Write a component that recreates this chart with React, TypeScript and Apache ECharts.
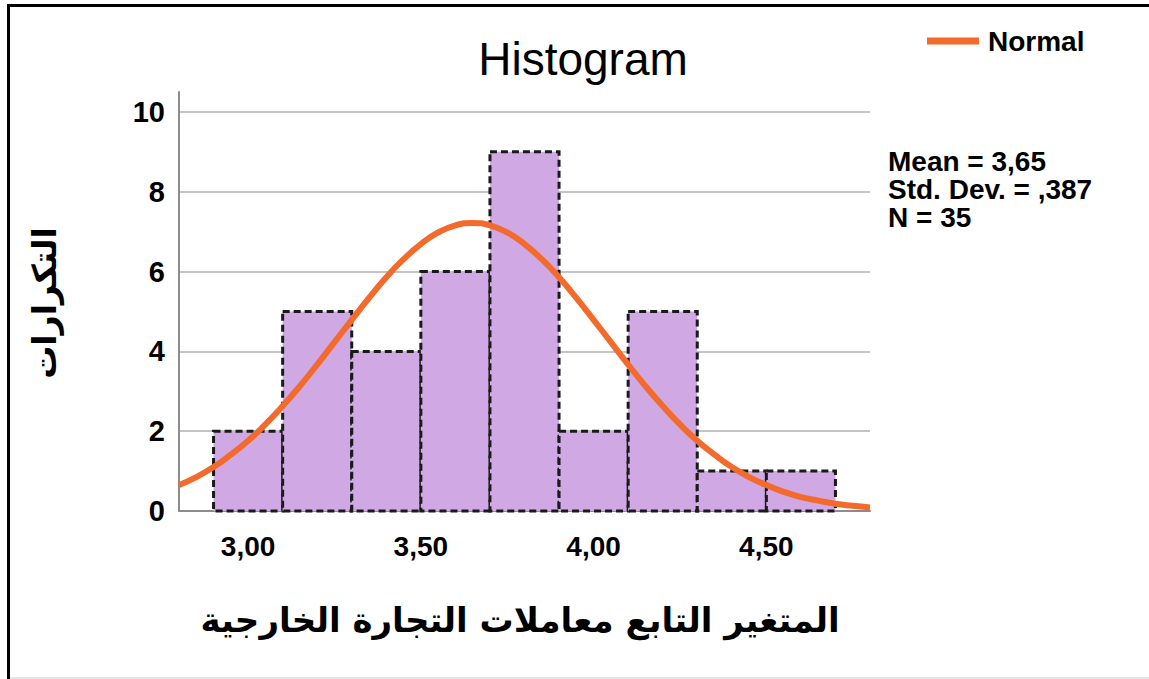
import React, { useEffect, useRef } from "react";
import * as echarts from "echarts";

// Histogram bins: [lower edge, upper edge, count]
const binLower = [2.9, 3.1, 3.3, 3.5, 3.7, 3.9, 4.1, 4.3, 4.5];
const binUpper = [3.1, 3.3, 3.5, 3.7, 3.9, 4.1, 4.3, 4.5, 4.7];
const binCounts = [2, 5, 4, 6, 9, 2, 5, 1, 1];

// Normal curve
const curveX = [2.8, 2.85, 2.9, 2.95, 3.0, 3.05, 3.1, 3.15, 3.2, 3.25, 3.3, 3.35, 3.4, 3.45, 3.5, 3.55, 3.6, 3.65, 3.7, 3.75, 3.8, 3.85, 3.9, 3.95, 4.0, 4.05, 4.1, 4.15, 4.2, 4.25, 4.3, 4.35, 4.4, 4.45, 4.5, 4.55, 4.6, 4.65, 4.7, 4.75, 4.8];
const curveY = [0.65, 0.85, 1.1, 1.41, 1.76, 2.17, 2.63, 3.13, 3.67, 4.23, 4.79, 5.34, 5.86, 6.31, 6.69, 6.98, 7.16, 7.22, 7.16, 6.98, 6.69, 6.31, 5.86, 5.34, 4.79, 4.23, 3.67, 3.13, 2.63, 2.17, 1.76, 1.41, 1.1, 0.85, 0.65, 0.48, 0.35, 0.26, 0.18, 0.13, 0.09];

const yTicks = [0, 2, 4, 6, 8, 10];
const xTickLabels = ["3,00", "3,50", "4,00", "4,50"];
const xTickValues = [3.0, 3.5, 4.0, 4.5];

const titleText = "Histogram";
const legendName = "Normal";
const statsLines = ["Mean = 3,65", "Std. Dev. = ,387", "N = 35"];
const yName = "التكرارات";
const xName = "المتغير التابع معاملات التجارة الخارجية";

const LATIN = "'Liberation Sans', Arial, sans-serif";
const ARABIC = "'DejaVu Sans', sans-serif";

export default function App() {
  const ref = useRef<HTMLDivElement>(null);
  useEffect(() => {
    document.body.style.margin = "0";
    const chart = echarts.init(ref.current!, null, { renderer: "svg" });
    const barData = binLower.map((l, i) => [l, binUpper[i], binCounts[i]]);
    const lineData = curveX.map((x, i) => [x, curveY[i]]);
    const statsTexts = statsLines.map((t, i) => ({
      type: "text",
      x: 888,
      y: 161 + i * 28,
      style: {
        text: t,
        fontFamily: LATIN,
        fontWeight: "bold",
        fontSize: 28,
        lineHeight: 26,
        fill: "#000",
        textAlign: "left",
        textVerticalAlign: "middle",
      },
    }));
    chart.setOption({
      animation: false,
      backgroundColor: "#ffffff",
      grid: { left: 179, top: 92, right: 279, bottom: 168, containLabel: false },
      legend: {
        data: [{ name: legendName }],
        icon: "rect",
        itemWidth: 52,
        itemHeight: 7,
        left: 922,
        top: 22,
        textStyle: { fontFamily: LATIN, fontWeight: "bold", fontSize: 28, color: "#000", padding: [0, 0, 0, 4] },
      },
      xAxis: {
        type: "value",
        min: 2.8,
        max: 4.8,
        interval: 0.1,
        axisLine: { show: true, onZero: false, lineStyle: { color: "#8c8c8c", width: 2 } },
        axisTick: { show: false },
        splitLine: { show: false },
        axisLabel: {
          interval: 0,
          margin: 21,
          fontFamily: LATIN,
          fontWeight: "bold",
          fontSize: 28,
          color: "#000",
          formatter: (v: number) => {
            const idx = xTickValues.findIndex((t) => Math.abs(t - v) < 1e-6);
            return idx >= 0 ? xTickLabels[idx] : "";
          },
        },
      },
      yAxis: {
        type: "value",
        min: 0,
        max: 10.5,
        interval: 2,
        axisLine: { show: true, lineStyle: { color: "#8c8c8c", width: 2 } },
        axisTick: { show: false },
        splitLine: { show: true, showMaxLine: false, showMinLine: false, lineStyle: { color: "#c4c4c4", width: 2 } },
        axisLabel: {
          margin: 14,
          showMaxLabel: false,
          fontFamily: LATIN,
          fontWeight: "bold",
          fontSize: 29,
          color: "#000",
          formatter: (v: number) => (yTicks.includes(v) ? String(v) : ""),
        },
      },
      series: [
        {
          type: "custom",
          name: "bars",
          data: barData,
          encode: { x: [0, 1], y: 2 },
          z: 2,
          renderItem: (params: any, api: any) => {
            const p0 = api.coord([api.value(0), api.value(2)]);
            const p1 = api.coord([api.value(1), 0]);
            return {
              type: "rect",
              shape: { x: p0[0], y: p0[1], width: p1[0] - p0[0], height: p1[1] - p0[1] },
              style: { fill: "#cfa8e4", stroke: "#1a1a1a", lineWidth: 3, lineDash: [7, 4] },
            };
          },
        },
        {
          type: "line",
          name: legendName,
          data: lineData,
          smooth: true,
          showSymbol: false,
          symbol: "none",
          z: 3,
          color: "#f26a2c",
          lineStyle: { color: "#f26a2c", width: 6 },
        },
      ],
      graphic: [
        { type: "rect", shape: { x: 7, y: 4, width: 3, height: 675 }, style: { fill: "#000" }, silent: true },
        { type: "rect", shape: { x: 7, y: 4, width: 1142, height: 3 }, style: { fill: "#000" }, silent: true },
        { type: "rect", shape: { x: 10, y: 677, width: 1139, height: 2 }, style: { fill: "#e6e6e6" }, silent: true },
        {
          type: "text",
          x: 583,
          y: 59,
          style: { text: titleText, fontFamily: LATIN, fontSize: 46, fill: "#000", textAlign: "center", textVerticalAlign: "middle" },
        },
        ...statsTexts,
        {
          type: "text",
          x: 44,
          y: 303,
          rotation: Math.PI / 2,
          style: { text: yName, fontFamily: ARABIC, fontWeight: "bold", fontSize: 33, fill: "#000", textAlign: "center", textVerticalAlign: "middle" },
        },
        {
          type: "text",
          x: 520,
          y: 620,
          style: { text: xName, fontFamily: ARABIC, fontWeight: "bold", fontSize: 34, fill: "#000", textAlign: "center", textVerticalAlign: "middle" },
        },
      ],
    });
    return () => chart.dispose();
  }, []);
  return <div ref={ref} style={{ position: "absolute", left: 0, top: 0, width: 1149, height: 679 }} />;
}
